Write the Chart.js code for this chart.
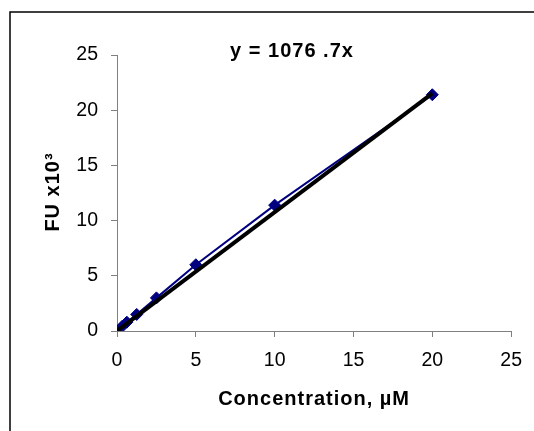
<!DOCTYPE html>
<html>
<head>
<meta charset="utf-8">
<script src="https://cdn.jsdelivr.net/npm/chart.js@4/dist/chart.umd.min.js"></script>
<style>
  html, body { margin: 0; padding: 0; background: #fff; }
  canvas { display: block; }
</style>
</head>
<body>
<canvas id="c" width="534" height="431"></canvas>
<script>
// Data
const concentration = [0, 0.3125, 0.625, 1.25, 2.5, 5, 10, 20];
const fluorescence = [0, 0.4, 0.8, 1.5, 3.0, 6.0, 11.4, 21.4];
const trendX = [0, 20];
const trendY = [0, 21.53];
const xTicks = [0, 5, 10, 15, 20, 25];
const yTicks = [0, 5, 10, 15, 20, 25];
const equationText = 'y = 1076 .7x';
const xTitle = 'Concentration, µM';
const yTitle = 'FU x10³';

const FONT = "'Liberation Sans', Arial, sans-serif";

function spacedText(ctx, text, x, y) {
  if ('letterSpacing' in ctx) ctx.letterSpacing = '1px';
  ctx.fillText(text, x, y);
}

const framePlugin = {
  id: 'frame',
  beforeDraw(chart) {
    const ctx = chart.ctx;
    ctx.save();
    ctx.fillStyle = '#fff';
    ctx.fillRect(0, 0, chart.width, chart.height);
    ctx.strokeStyle = '#000';
    ctx.lineWidth = 1.5;
    ctx.beginPath();
    ctx.moveTo(10, chart.height + 5);
    ctx.lineTo(10, 12);
    ctx.lineTo(chart.width + 5, 12);
    ctx.stroke();
    ctx.restore();
  },
  afterDraw(chart) {
    const ctx = chart.ctx;
    const area = chart.chartArea;
    ctx.save();
    ctx.fillStyle = '#000';
    ctx.font = 'bold 20px ' + FONT;
    ctx.textAlign = 'center';
    ctx.textBaseline = 'middle';
    spacedText(ctx, equationText, 292, 51);
    spacedText(ctx, xTitle, (area.left + area.right) / 2, 399);
    ctx.translate(53, (area.top + area.bottom) / 2 - 1);
    ctx.rotate(-Math.PI / 2);
    spacedText(ctx, yTitle, 0, 0);
    ctx.restore();
  }
};

const toPts = (xs, ys) => xs.map((x, i) => ({ x: x, y: ys[i] }));

new Chart(document.getElementById('c'), {
  type: 'scatter',
  data: {
    datasets: [
      {
        label: 'Linear fit',
        data: toPts(trendX, trendY),
        showLine: true,
        borderColor: '#000000',
        borderWidth: 4,
        pointRadius: 0,
        order: 0
      },
      {
        label: 'FU',
        data: toPts(concentration, fluorescence),
        showLine: true,
        borderColor: '#000080',
        backgroundColor: '#000080',
        borderWidth: 2,
        pointStyle: 'rectRot',
        pointRadius: 6,
        pointBorderWidth: 1,
        order: 1
      }
    ]
  },
  options: {
    responsive: false,
    animation: false,
    devicePixelRatio: 1,
    layout: { padding: { left: 0, right: 20, top: 55, bottom: 0 } },
    plugins: {
      legend: { display: false },
      tooltip: { enabled: false },
      title: { display: false }
    },
    scales: {
      x: {
        type: 'linear',
        min: 0,
        max: 25,
        afterBuildTicks(scale) { scale.ticks = xTicks.map(v => ({ value: v })); },
        afterFit(scale) { scale.height = 100; },
        border: { display: true, color: '#808080', width: 1 },
        grid: { display: true, drawOnChartArea: false, drawTicks: true, tickLength: 6, color: '#808080' },
        ticks: { color: '#000', padding: 12, font: { family: FONT, size: 19.5 } }
      },
      y: {
        type: 'linear',
        min: 0,
        max: 25,
        afterBuildTicks(scale) { scale.ticks = yTicks.map(v => ({ value: v })); },
        afterFit(scale) { scale.width = 117; },
        border: { display: true, color: '#808080', width: 1 },
        grid: { display: true, drawOnChartArea: false, drawTicks: true, tickLength: 6, color: '#808080' },
        ticks: { color: '#000', padding: 13, font: { family: FONT, size: 19.5 } }
      }
    }
  },
  plugins: [framePlugin]
});
</script>
</body>
</html>
